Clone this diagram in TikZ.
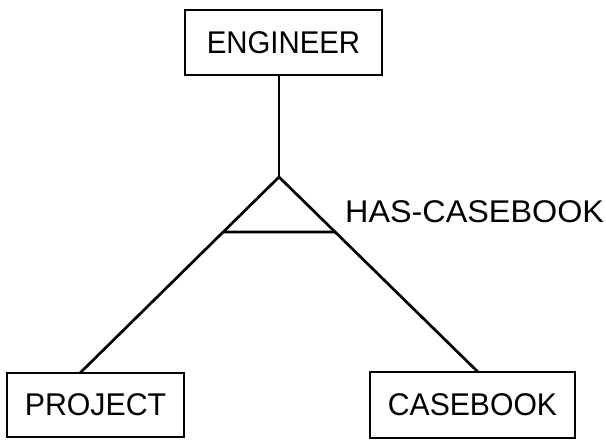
\documentclass[tikz,border=0pt]{standalone}
\usepackage{fontspec}
\usepackage{graphicx}
\setmainfont{Liberation Sans}
\usetikzlibrary{calc}

\tikzset{
  entity/.style={draw, line width=2.7pt, inner sep=0pt, align=center,
    font=\fontsize{31.4}{36}\selectfont},
  link/.style={line width=2.7pt, line cap=round},
  relname/.style={inner sep=0pt, anchor=west,
    font=\fontsize{31.4}{36}\selectfont}
}

\begin{document}
\begin{tikzpicture}[x=1pt, y=-1pt]
  \useasboundingbox (0,0) rectangle (606,440);

  % entity boxes
  \node[entity, minimum width=197pt, minimum height=65pt] (eng)  at (283.5,42.5)
    {\scalebox{0.935}[1]{ENGINEER}};
  \node[entity, minimum width=177pt, minimum height=64pt] (proj) at (95.5,405)
    {\scalebox{0.965}[1]{PROJECT}};
  \node[entity, minimum width=205pt, minimum height=66pt] (book) at (472.5,405)
    {\scalebox{0.96}[1]{CASEBOOK}};

  % relationship triangle
  \coordinate (apex) at (279,177);
  \coordinate (pin)  at (80,373);
  \coordinate (bin)  at (478,372);
  \coordinate (bl) at ($(apex)!0.281!(pin)$);
  \coordinate (br) at ($(apex)!0.282!(bin)$);

  \draw[link] (eng.south -| apex) -- (apex);
  \draw[link] (apex) -- (pin);
  \draw[link] (apex) -- (bin);
  \draw[link] (bl) -- (br);

  \node[relname] (rel) at (345,211.5) {\scalebox{1.03}[1]{HAS-CASEBOOK}};
\end{tikzpicture}
\end{document}
